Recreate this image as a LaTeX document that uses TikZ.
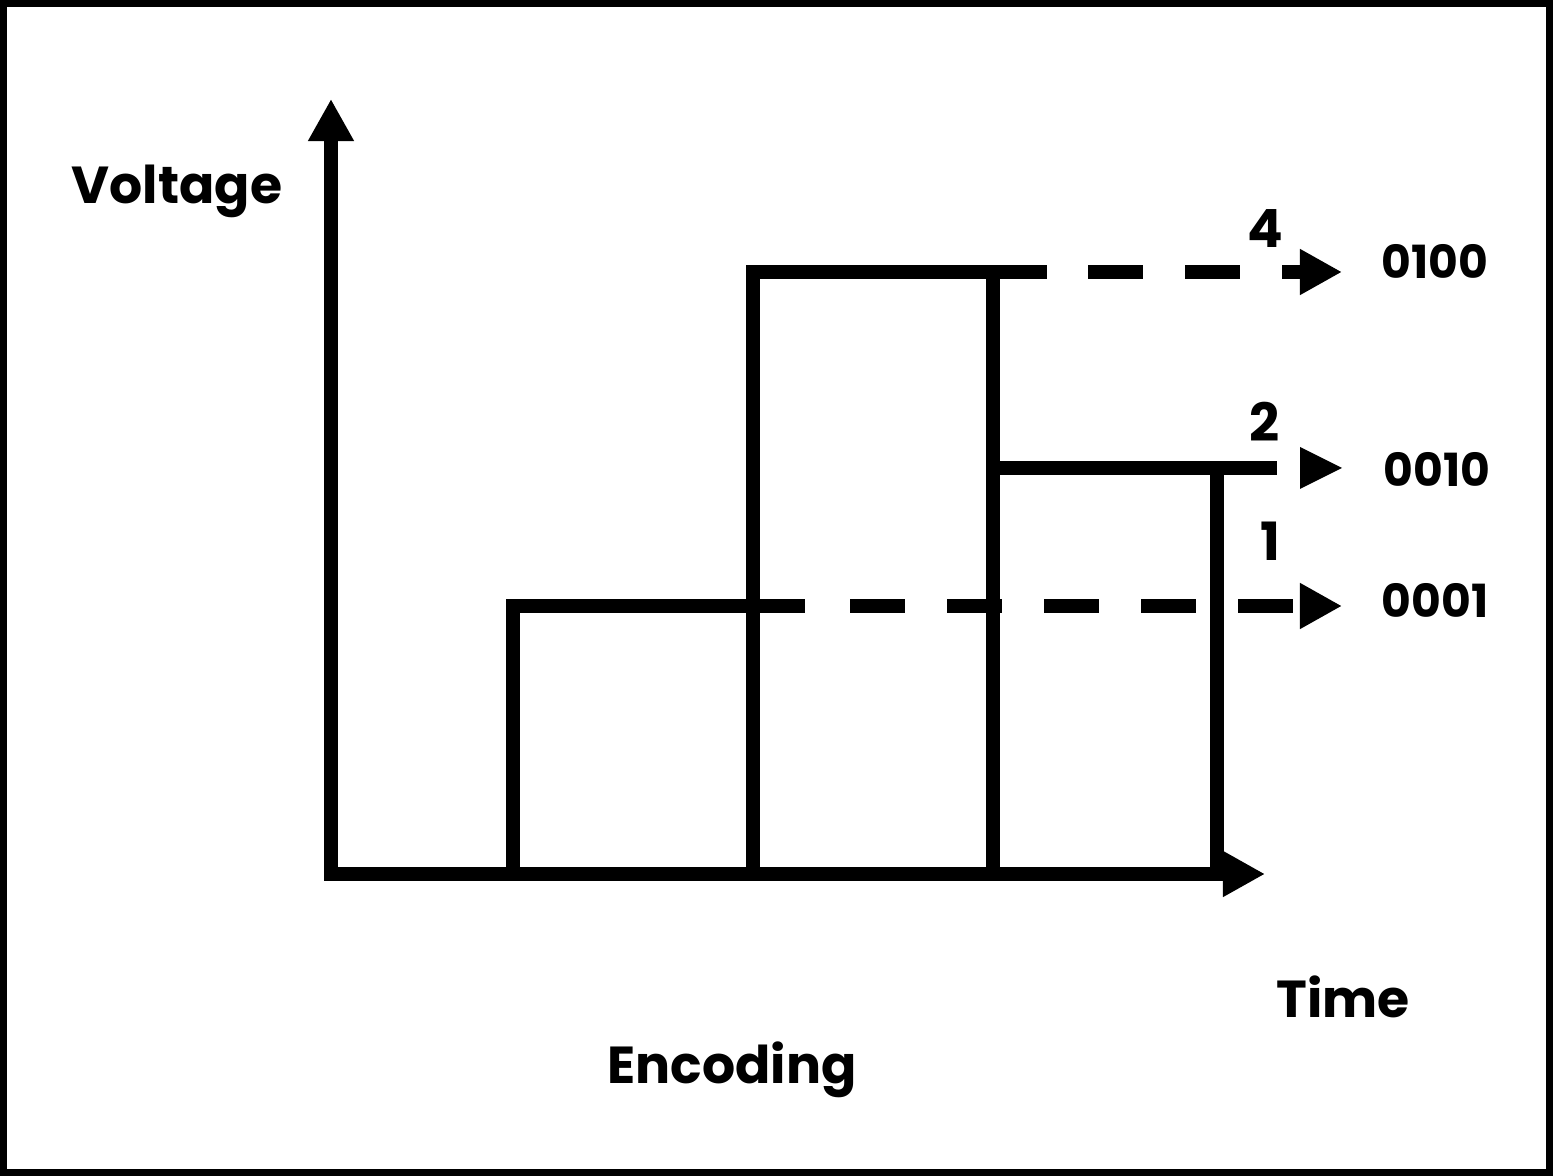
\documentclass[tikz,border=0pt]{standalone}
\usepackage{fontspec}
\setmainfont{Poppins}
\usetikzlibrary{arrows.meta}
\begin{document}
\begin{tikzpicture}[x=0.01cm, y=-0.01cm,
    >={Triangle[length=0.42cm, width=0.43cm]},
    wire/.style={line width=0.13cm, line join=miter},
    dashwire/.style={wire, dash pattern=on 0.55cm off 0.42cm},
    axlabel/.style={font=\fontsize{14.8}{18}\selectfont\bfseries},
    level/.style={font=\fontsize{15}{18}\selectfont\bfseries},
    code/.style={font=\fontsize{13}{15}\selectfont\bfseries}]

      \useasboundingbox (0,0) rectangle (1553,1176);

      % Draw the frame
      \draw[line width=0.07cm] (3.5,3.5) rectangle (1549.5,1172.5);

      % Draw the axes
      \draw[wire, <->] (331,99) -- (331,874) -- (1265,874);

      % Draw the pulses
      \draw[wire] (513,874) -- (513,606) -- (805,606);
      \draw[wire] (753,868) -- (753,272) -- (1047,272);
      \draw[wire] (993,272) -- (993,874);
      \draw[wire] (993,468) -- (1277,468);
      \draw[wire] (1217,468) -- (1217,874);

      % Draw the dashed levels with their arrows
      \coordinate (end4) at (1342,272);
      \coordinate (end2) at (1342,468);
      \coordinate (end1) at (1342,606);
      \draw[dashwire, ->] (1088,272) -- (end4);
      \draw[dashwire, ->] (850,606) -- (end1);
      \fill (1300,447) -- (end2) -- (1300,489) -- cycle;

      % Add the labels
      \node[axlabel] (volt) at (177,191) {Voltage};
      \node[axlabel] (time) at (1343,997) {Time};
      \node[axlabel] (enc) at (732,1070) {Encoding};
      \node[level] (lvl4) at (1265,229) {4};
      \node[level] (lvl2) at (1265,422) {2};
      \node[level] (lvl1) at (1270,541) {1};
      \node[code] (code4) at (1435,261) {0100};
      \node[code] (code2) at (1437,469) {0010};
      \node[code] (code1) at (1435,600) {0001};
    \end{tikzpicture}
\end{document}
